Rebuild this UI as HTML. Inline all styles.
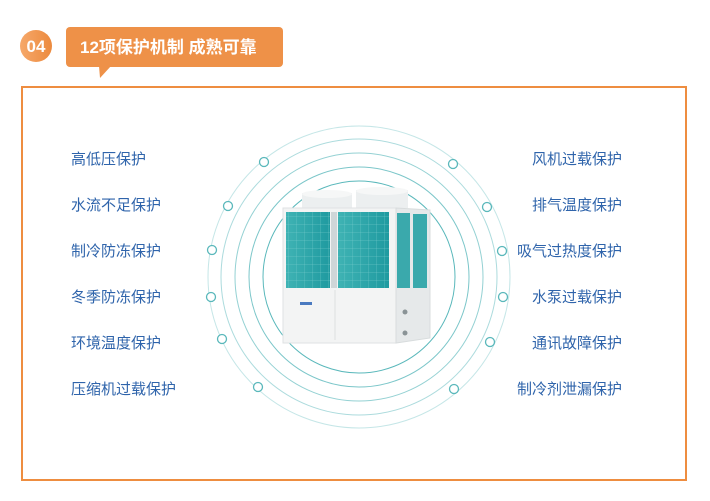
<!DOCTYPE html>
<html><head><meta charset="utf-8"><style>
body{margin:0;width:710px;height:501px;background:#fff;overflow:hidden;font-family:"Liberation Sans","Noto Sans CJK SC",sans-serif;}
.t{position:absolute;font-size:15px;color:#2f64ab;line-height:18px;white-space:nowrap}
.l{left:71px}.r{right:88px}
</style></head><body>
<svg width="710" height="501" style="position:absolute;left:0;top:0">
<defs>
<linearGradient id="g" x1="0" x2="1"><stop offset="0" stop-color="#f6a86a"/><stop offset="1" stop-color="#ec8a3e"/></linearGradient>
<linearGradient id="c" x1="0" x2="1"><stop offset="0" stop-color="#3fb3b4"/><stop offset="1" stop-color="#1f9aa0"/></linearGradient>
<pattern id="p" width="8" height="8" patternUnits="userSpaceOnUse"><path d="M0 0H8M0 0V8" stroke="#7fd0d0" stroke-width="0.5" fill="none"/></pattern>
</defs>
<circle cx="36" cy="46" r="16" fill="url(#g)"/>
<text x="36" y="52" text-anchor="middle" fill="#fff" font-size="17" font-weight="bold" font-family="Liberation Sans">04</text>
<rect x="66" y="27" width="217" height="40" rx="4" fill="#ee9148"/>
<polygon points="99,66 111,66 100,78" fill="#ee9148"/>
<text x="80" y="53" fill="#fff" font-size="17" font-weight="bold" font-family="Liberation Sans,Noto Sans CJK SC,sans-serif">12项保护机制 成熟可靠</text>
<rect x="22" y="87" width="664" height="393" fill="none" stroke="#ee8d40" stroke-width="2"/>
<g fill="none" stroke="#5ab8bb">
<circle cx="359" cy="277" r="151" stroke-opacity=".35"/>
<circle cx="359" cy="277" r="138" stroke-opacity=".5"/>
<circle cx="359" cy="277" r="124" stroke-opacity=".65"/>
<circle cx="359" cy="277" r="110" stroke-opacity=".8"/>
<circle cx="359" cy="277" r="96"/>
</g>
<g fill="#fff" stroke="#5ab8bb" stroke-width="1.3">
<circle cx="264" cy="162" r="4.5"/><circle cx="228" cy="206" r="4.5"/><circle cx="212" cy="250" r="4.5"/>
<circle cx="211" cy="297" r="4.5"/><circle cx="222" cy="339" r="4.5"/><circle cx="258" cy="387" r="4.5"/>
<circle cx="453" cy="164" r="4.5"/><circle cx="487" cy="207" r="4.5"/><circle cx="502" cy="251" r="4.5"/>
<circle cx="503" cy="297" r="4.5"/><circle cx="490" cy="342" r="4.5"/><circle cx="454" cy="389" r="4.5"/>
</g>
<rect x="302" y="193" width="50" height="16" fill="#eceff0"/><ellipse cx="327" cy="194" rx="25" ry="4" fill="#f6f7f7"/>
<rect x="356" y="190" width="52" height="18" fill="#eceff0"/><ellipse cx="382" cy="191" rx="26" ry="4" fill="#f6f7f7"/>
<rect x="283" y="208" width="113" height="135" fill="#f3f4f4" stroke="#dfe2e3"/>
<polygon points="396,208 430,210 430,338 396,343" fill="#e6e9ea" stroke="#d8dcdd"/>
<rect x="286" y="212" width="44" height="76" fill="url(#c)"/>
<rect x="338" y="212" width="51" height="76" fill="url(#c)"/>
<rect x="286" y="212" width="44" height="76" fill="url(#p)"/>
<rect x="338" y="212" width="51" height="76" fill="url(#p)"/>
<rect x="331" y="212" width="6" height="76" fill="#cfd6d8"/>
<rect x="397" y="213" width="13" height="75" fill="#3aa9ac"/>
<rect x="413" y="214" width="14" height="74" fill="#3aa9ac"/>
<line x1="335" y1="290" x2="335" y2="340" stroke="#dcdfe0"/>
<rect x="300" y="302" width="12" height="3" fill="#4a7ac0"/>
<circle cx="405" cy="312" r="2.5" fill="#8a9396"/><circle cx="405" cy="333" r="2.5" fill="#8a9396"/>
</svg>
<div class="t l" style="top:151px">高低压保护</div>
<div class="t l" style="top:197px">水流不足保护</div>
<div class="t l" style="top:243px">制冷防冻保护</div>
<div class="t l" style="top:289px">冬季防冻保护</div>
<div class="t l" style="top:335px">环境温度保护</div>
<div class="t l" style="top:381px">压缩机过载保护</div>
<div class="t r" style="top:151px">风机过载保护</div>
<div class="t r" style="top:197px">排气温度保护</div>
<div class="t r" style="top:243px">吸气过热度保护</div>
<div class="t r" style="top:289px">水泵过载保护</div>
<div class="t r" style="top:335px">通讯故障保护</div>
<div class="t r" style="top:381px">制冷剂泄漏保护</div>
</body></html>
